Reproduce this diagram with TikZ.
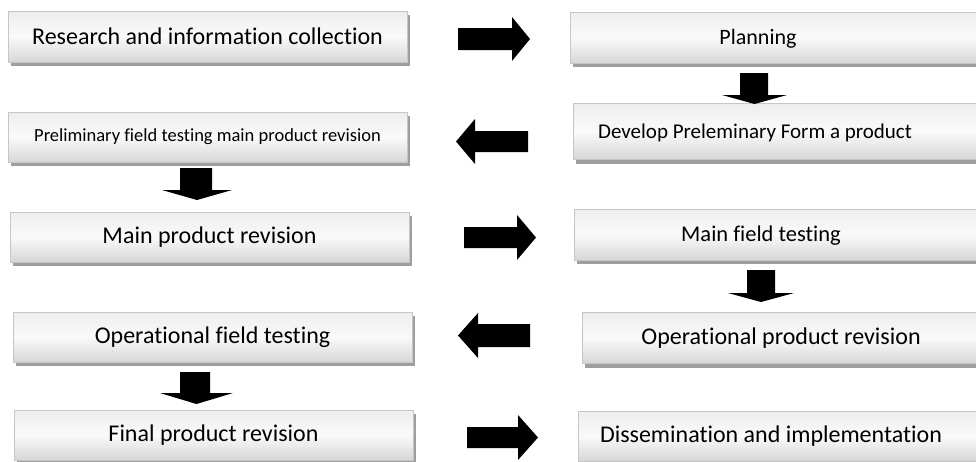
\documentclass[tikz,border=0pt]{standalone}
\usepackage{fontspec}
\setmainfont{Carlito}[Ligatures=NoCommon]
\usetikzlibrary{shadows}
\begin{document}
\begin{tikzpicture}[x=1pt,y=-1pt,
  box/.style={draw=gray!45, line width=0.8pt, top color=gray!14, bottom color=gray!32, middle color=gray!4,
    inner sep=0pt, anchor=center,
    drop shadow={shadow xshift=3pt, shadow yshift=-4pt, fill=black!38, opacity=1}},
  lbl/.style={inner sep=0pt, anchor=center, text=black},
  blk/.style={fill=black, draw=none}]
\useasboundingbox (0,0) rectangle (976,461);
\clip (0,0) rectangle (976,461);
% left column
\node[box, minimum width=399pt, minimum height=51pt] (research) at (207.5,36.5) {};
\node[lbl, font=\fontsize{24}{28}\selectfont] (t-research) at (research.center) {Research and information collection};
\node[box, minimum width=399pt, minimum height=50pt] (prelim) at (207.5,137) {};
\node[lbl, font=\fontsize{18.5}{22}\selectfont] (t-prelim) at (prelim.center) {Preliminary field testing main product revision};
\node[box, minimum width=399pt, minimum height=50pt] (mainrev) at (209.5,237) {};
\node[lbl, font=\fontsize{24}{28}\selectfont] (t-mainrev) at (mainrev.center) {Main product revision};
\node[box, minimum width=399pt, minimum height=50pt] (opfield) at (212.5,337) {};
\node[lbl, font=\fontsize{24}{28}\selectfont] (t-opfield) at (opfield.center) {Operational field testing};
\node[box, minimum width=399pt, minimum height=50pt] (final) at (213.5,435) {};
\node[lbl, font=\fontsize{24}{28}\selectfont] (t-final) at (final.center) {Final product revision};
% right column
\node[box, minimum width=420pt, minimum height=51pt] (plan) at (780,37.5) {};
\node[lbl, font=\fontsize{22}{26}\selectfont] (t-plan) at (758,38.5) {Planning};
\node[box, minimum width=417pt, minimum height=56pt] (develop) at (781.5,131.5) {};
\node[lbl, font=\fontsize{21}{25}\selectfont] (t-develop) at (755,133) {Develop Preleminary Form a product};
\node[box, minimum width=416pt, minimum height=51pt] (mainfield) at (782,234.5) {};
\node[lbl, font=\fontsize{22.5}{26}\selectfont] (t-mainfield) at (761,236) {Main field testing};
\node[box, minimum width=408pt, minimum height=51pt] (opprod) at (786,338) {};
\node[lbl, font=\fontsize{24}{28}\selectfont] (t-opprod) at (781,338) {Operational product revision};
\node[box, minimum width=412pt, minimum height=50pt] (dissem) at (784,436) {};
\node[lbl, font=\fontsize{24}{28}\selectfont] (t-dissem) at (771,436) {Dissemination and implementation};
% horizontal block arrows
\fill[blk] (458,28) -- (512,28) -- (512,17) -- (530,39) -- (512,61) -- (512,50) -- (458,50) -- cycle;
\fill[blk] (528,131) -- (475,131) -- (475,119) -- (456,141.5) -- (475,164) -- (475,152) -- (528,152) -- cycle;
\fill[blk] (464,227) -- (517,227) -- (517,215) -- (536,237.5) -- (517,260) -- (517,248) -- (464,248) -- cycle;
\fill[blk] (530,324) -- (478,324) -- (478,313) -- (458,335.5) -- (478,358) -- (478,347) -- (530,347) -- cycle;
\fill[blk] (467,427) -- (518,427) -- (518,415) -- (538,437.5) -- (518,460) -- (518,448) -- (467,448) -- cycle;
% vertical block arrows
\fill[blk] (740,73) -- (768,73) -- (768,95) -- (787,95) -- (754.5,104) -- (722,95) -- (740,95) -- cycle;
\fill[blk] (180,168) -- (212,168) -- (212,190) -- (232,190) -- (197,200) -- (162,190) -- (180,190) -- cycle;
\fill[blk] (747,270) -- (775,270) -- (775,293) -- (794,293) -- (761,302) -- (728,293) -- (747,293) -- cycle;
\fill[blk] (180,372) -- (210,372) -- (210,393) -- (233,393) -- (196.5,404) -- (160,393) -- (180,393) -- cycle;
\end{tikzpicture}
\end{document}
